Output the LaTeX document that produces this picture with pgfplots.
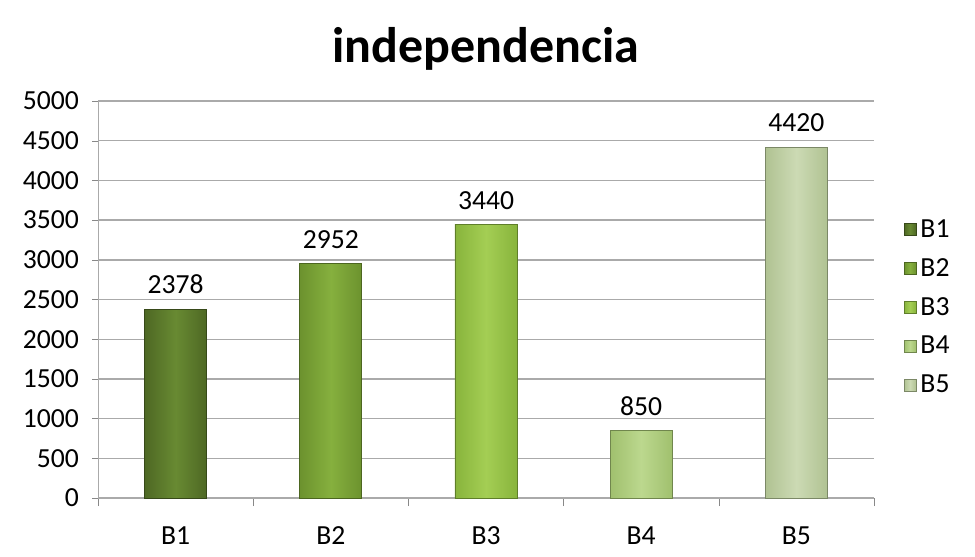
\documentclass[border=0pt]{standalone}
\usepackage{fontspec}
\setmainfont{Carlito}
\usepackage{pgfplots}
\pgfplotsset{compat=1.18}

% bar colours, dark edge / light middle
\definecolor{bA}{RGB}{78,104,36}
\definecolor{bAm}{RGB}{104,138,50}
\definecolor{bB}{RGB}{108,146,46}
\definecolor{bBm}{RGB}{134,176,62}
\definecolor{bC}{RGB}{136,180,60}
\definecolor{bCm}{RGB}{164,206,84}
\definecolor{bD}{RGB}{160,192,110}
\definecolor{bDm}{RGB}{188,216,142}
\definecolor{bE}{RGB}{176,194,146}
\definecolor{bEm}{RGB}{204,218,180}
\definecolor{gridgray}{RGB}{170,170,170}

\begin{document}
\begin{tikzpicture}
\begin{axis}[
  scale only axis,
  width=388pt, height=198.5pt,
  xmin=-0.5, xmax=4.5,
  ymin=0, ymax=5000,
  ytick={0,500,...,5000},
  xtick={0,1,2,3,4},
  xticklabels={B1,B2,B3,B4,B5},
  minor xtick={-0.5,0.5,...,4.5},
  major x tick style={draw=none},
  minor x tick style={gridgray!80!black},
  minor tick length=4pt,
  major tick length=3pt,
  tick align=outside,
  ytick style={gridgray!80!black},
  axis x line*=bottom,
  axis y line*=left,
  axis line style={gridgray, -},
  ymajorgrids,
  grid style={gridgray, line width=0.7pt},
  ybar, bar width=0.4,
  /pgf/number format/assume math mode=true,
  /pgf/number format/1000 sep={},
  tick label style={font=\fontsize{13.8}{16}\selectfont, black},
  xticklabel style={yshift=-8pt},
  yticklabel style={xshift=-3pt},
  title={independencia},
  title style={font=\fontsize{25}{30}\selectfont\bfseries, yshift=6pt},
  nodes near coords,
  every node near coord/.append style={font=\fontsize{13.8}{16}\selectfont, black, anchor=south, yshift=4pt},
  legend style={at={(1.03,0.48)}, anchor=west, draw=none, fill=none,
    font=\fontsize{13.8}{16}\selectfont, row sep=5pt},
  legend image code/.code={\draw[#1] (0pt,-3pt) rectangle (6pt,3pt);},
]
\addplot[bar shift=0pt, draw=bA!70!black, left color=bA, right color=bA, middle color=bAm] coordinates {(0,2378)};
\addlegendentry{B1}
\addplot[bar shift=0pt, draw=bB!70!black, left color=bB, right color=bB, middle color=bBm] coordinates {(1,2952)};
\addlegendentry{B2}
\addplot[bar shift=0pt, draw=bC!70!black, left color=bC, right color=bC, middle color=bCm] coordinates {(2,3440)};
\addlegendentry{B3}
\addplot[bar shift=0pt, draw=bD!70!black, left color=bD, right color=bD, middle color=bDm] coordinates {(3,850)};
\addlegendentry{B4}
\addplot[bar shift=0pt, draw=bE!70!black, left color=bE, right color=bE, middle color=bEm] coordinates {(4,4420)};
\addlegendentry{B5}
\end{axis}
\pgfresetboundingbox
\path ([xshift=-49pt,yshift=-29pt]current axis.south west) rectangle ([xshift=50.5pt,yshift=50.5pt]current axis.north east);
\end{tikzpicture}
\end{document}
